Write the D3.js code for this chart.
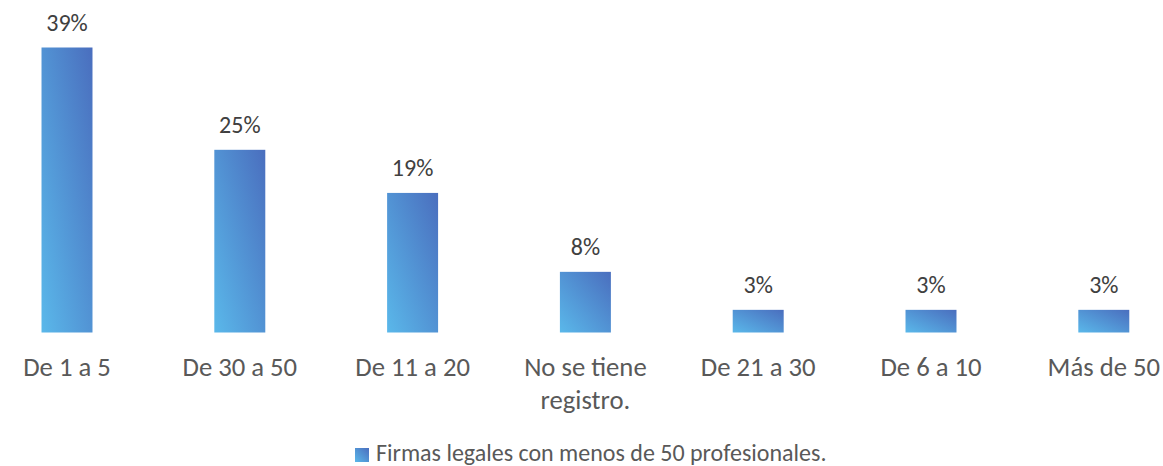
<!DOCTYPE html>
<html>
  <head>
    <meta charset="utf-8">
    <title>Firmas legales con menos de 50 profesionales</title>
    <style type="text/css">
      body {
        margin: 0;
        background: #fff;
        font-family: Calibri, Carlito, "Open Sans", sans-serif;
      }
      .axis path, .axis line {
        display: none;
      }
      .axis text {
        font-family: Calibri, Carlito, "Open Sans", sans-serif;
        font-size: 26.7px;
        fill: #595959;
      }
      .value-label {
        font-size: 24px;
        fill: #404040;
      }
      .legend text {
        font-size: 24px;
        fill: #595959;
      }
    </style>
  </head>
  <body>
    <script src="https://d3js.org/d3.v7.min.js"></script>
    <script>
    // data
    var categories = ["De 1 a 5", "De 30 a 50", "De 11 a 20", "No se tiene registro.", "De 21 a 30", "De 6 a 10", "Más de 50"];
    var values = [39, 25, 19.1, 8.3, 3.1, 3.1, 3.1];
    var valueLabels = ["39%", "25%", "19%", "8%", "3%", "3%", "3%"];
    var seriesName = "Firmas legales con menos de 50 profesionales.";

    var width = 1163, height = 466;
    var baseline = 332.5;

    var svg = d3.select("body").append("svg")
        .attr("width", width)
        .attr("height", height);

    // gradient like the excel fill (light bottom-left -> dark top-right)
    var grad = svg.append("defs").append("linearGradient")
        .attr("id", "barFill")
        .attr("x1", 0).attr("y1", 1)
        .attr("x2", 1).attr("y2", 0);
    grad.append("stop").attr("offset", "0%").attr("stop-color", "#5ab8ea");
    grad.append("stop").attr("offset", "100%").attr("stop-color", "#4a6ebe");

    var x = d3.scaleBand()
        .domain(categories)
        .range([-19.4, 1190.2])
        .paddingInner(0.705)
        .paddingOuter(0.3525);

    var y = d3.scaleLinear()
        .domain([0, 39])
        .range([baseline, 47.5]);

    var data = categories.map(function(c, i) {
      return {cat: c, value: values[i], label: valueLabels[i]};
    });

    svg.selectAll("rect.bar")
        .data(data)
      .enter().append("rect")
        .attr("class", "bar")
        .attr("x", function(d) { return x(d.cat); })
        .attr("y", function(d) { return y(d.value); })
        .attr("width", x.bandwidth())
        .attr("height", function(d) { return baseline - y(d.value); })
        .attr("fill", "url(#barFill)");

    svg.selectAll("text.value-label")
        .data(data)
      .enter().append("text")
        .attr("class", "value-label")
        .attr("text-anchor", "middle")
        .attr("x", function(d) { return x(d.cat) + x.bandwidth() / 2; })
        .attr("y", function(d) { return y(d.value) - 17; })
        .text(function(d) { return d.label; });

    var xAxis = d3.axisBottom(x).tickSize(0).tickPadding(0);

    svg.append("g")
        .attr("class", "x axis")
        .attr("transform", "translate(0," + baseline + ")")
        .call(xAxis)
        .selectAll(".tick text")
        .call(wrap, x.step() * 0.85);

    function wrap(texts, maxWidth) {
      texts.each(function() {
        var text = d3.select(this),
            words = text.text().split(/\s+/),
            line = [],
            lines = [];
        text.text(null);
        var probe = text.append("tspan");
        words.forEach(function(w) {
          line.push(w);
          probe.text(line.join(" "));
          if (probe.node().getComputedTextLength() > maxWidth && line.length > 1) {
            line.pop();
            lines.push(line.join(" "));
            line = [w];
          }
        });
        lines.push(line.join(" "));
        probe.remove();
        text.attr("y", null).attr("dy", null);
        lines.forEach(function(l, i) {
          text.append("tspan")
              .attr("x", 0)
              .attr("y", 43.5 + i * 33)
              .text(l);
        });
      });
    }

    // legend
    var legend = svg.append("g").attr("class", "legend");
    legend.append("rect")
        .attr("x", 355).attr("y", 448)
        .attr("width", 14).attr("height", 14)
        .attr("fill", "url(#barFill)");
    legend.append("text")
        .attr("x", 376).attr("y", 460.5)
        .text(seriesName);
    </script>
  </body>
</html>
